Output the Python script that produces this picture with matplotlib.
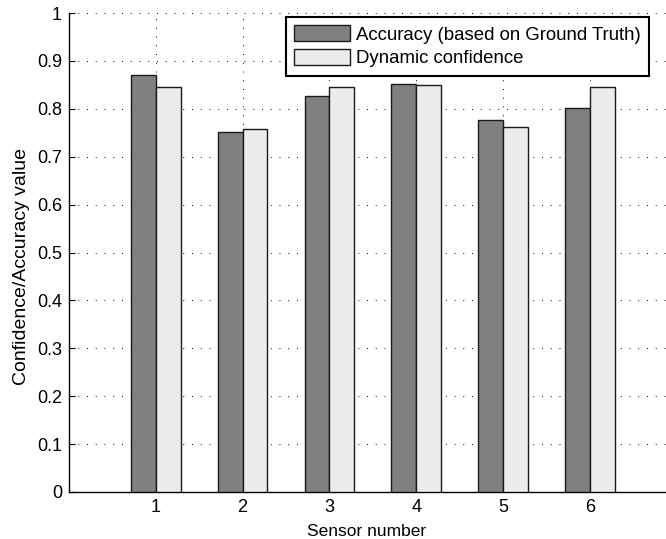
import numpy as np
import matplotlib
matplotlib.use("Agg")
import matplotlib.pyplot as plt

plt.rcParams['font.family'] = ['Liberation Sans', 'DejaVu Sans']

sensors = [1, 2, 3, 4, 5, 6]
accuracy = [0.871, 0.752, 0.826, 0.851, 0.776, 0.801]
dynamic_conf = [0.846, 0.758, 0.845, 0.849, 0.763, 0.845]
labels = ["Accuracy (based on Ground Truth)", "Dynamic confidence"]
ytick_labels = ["0", "0.1", "0.2", "0.3", "0.4", "0.5", "0.6", "0.7", "0.8", "0.9", "1"]

fig = plt.figure(figsize=(6.66, 5.39), dpi=100)
ax = fig.add_axes([69 / 666, 47 / 539, 607.6 / 666, 479 / 539])

x = np.array(sensors)
w = 0.2857
ax.bar(x - w / 2, accuracy, width=w, color="#808080", edgecolor="#1a1a1a", linewidth=1.0, label=labels[0], zorder=3)
ax.bar(x + w / 2, dynamic_conf, width=w, color="#ececec", edgecolor="#1a1a1a", linewidth=1.0, label=labels[1], zorder=3)

ax.set_xlim(0, 7)
ax.set_ylim(0, 1)
ax.set_xticks(sensors)
ax.set_yticks(np.arange(0, 1.01, 0.1))
ax.set_yticklabels(ytick_labels)
ax.tick_params(direction="in", length=4, labelsize=13, pad=5, top=False, right=False)
ax.grid(True, color="black", linestyle=(0, (1, 8)), linewidth=0.7, zorder=0)
ax.set_axisbelow(True)
for s in ["top", "right"]:
    ax.spines[s].set_visible(False)
ax.spines["left"].set_linewidth(1.0)
ax.spines["bottom"].set_linewidth(1.0)

ax.set_xlabel("Sensor number", fontsize=12.5)
ax.xaxis.set_label_coords(0.489, -0.066)
ax.set_ylabel("Confidence/Accuracy value", fontsize=14)
ax.yaxis.set_label_coords(-0.065, 0.47)

leg = ax.legend(loc="upper right", bbox_to_anchor=(0.9546, 0.9916), borderaxespad=0,
                fontsize=13.4, fancybox=False, framealpha=1, edgecolor="black",
                handlelength=3.0, handleheight=0.9, handletextpad=0.3, labelspacing=0.3,
                borderpad=0.45)
leg.get_frame().set_linewidth(1.5)

fig.savefig("out.png", dpi=100)
